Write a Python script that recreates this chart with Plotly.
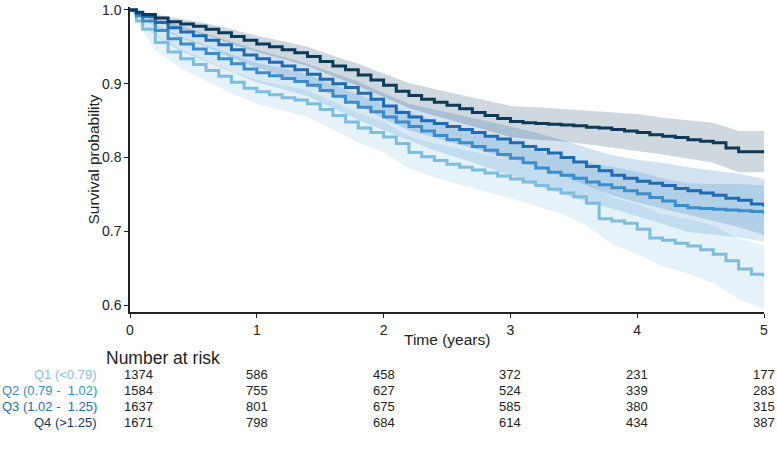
import plotly.graph_objects as go

# ---- data ----
time_grid = [0, 0.05, 0.1, 0.2, 0.3, 0.4, 0.5, 0.6, 0.7, 0.8, 0.9, 1.0, 1.1, 1.2, 1.3, 1.4, 1.5,
             1.6, 1.7, 1.8, 1.9, 2.0, 2.1, 2.2, 2.3, 2.4, 2.5, 2.6, 2.7, 2.8, 2.9, 3.0, 3.1, 3.2,
             3.3, 3.4, 3.5, 3.6, 3.7, 3.8, 3.9, 4.0, 4.1, 4.2, 4.3, 4.4, 4.5, 4.6, 4.7, 4.8, 4.9, 5.0]

surv_q1 = [1.0, 0.985, 0.974, 0.956, 0.943, 0.934, 0.926, 0.918, 0.910, 0.902, 0.894, 0.889, 0.885,
           0.881, 0.878, 0.873, 0.865, 0.857, 0.848, 0.840, 0.834, 0.828, 0.819, 0.807, 0.801, 0.796,
           0.791, 0.787, 0.783, 0.779, 0.775, 0.771, 0.767, 0.762, 0.757, 0.752, 0.747, 0.738, 0.717,
           0.714, 0.711, 0.703, 0.691, 0.688, 0.684, 0.680, 0.675, 0.669, 0.660, 0.649, 0.642, 0.638]
surv_q2 = [1.0, 0.992, 0.985, 0.972, 0.961, 0.954, 0.947, 0.941, 0.934, 0.927, 0.920, 0.915, 0.911,
           0.907, 0.903, 0.898, 0.891, 0.883, 0.875, 0.868, 0.862, 0.855, 0.848, 0.842, 0.836, 0.830,
           0.824, 0.820, 0.815, 0.810, 0.804, 0.799, 0.793, 0.786, 0.780, 0.776, 0.772, 0.767, 0.763,
           0.759, 0.755, 0.751, 0.746, 0.741, 0.735, 0.732, 0.731, 0.730, 0.729, 0.728, 0.727, 0.724]
surv_q3 = [1.0, 0.995, 0.991, 0.983, 0.976, 0.970, 0.965, 0.959, 0.953, 0.946, 0.939, 0.934, 0.929,
           0.924, 0.919, 0.913, 0.906, 0.900, 0.895, 0.887, 0.879, 0.870, 0.861, 0.855, 0.850, 0.846,
           0.842, 0.838, 0.834, 0.829, 0.825, 0.820, 0.815, 0.811, 0.806, 0.800, 0.794, 0.788, 0.782,
           0.776, 0.772, 0.768, 0.765, 0.762, 0.758, 0.755, 0.752, 0.749, 0.745, 0.742, 0.737, 0.733]
surv_q4 = [1.0, 0.997, 0.994, 0.989, 0.984, 0.981, 0.978, 0.974, 0.969, 0.964, 0.959, 0.954, 0.950,
           0.946, 0.942, 0.937, 0.930, 0.924, 0.919, 0.912, 0.905, 0.898, 0.890, 0.884, 0.879, 0.875,
           0.871, 0.866, 0.861, 0.857, 0.853, 0.849, 0.847, 0.846, 0.845, 0.844, 0.843, 0.841, 0.840,
           0.838, 0.836, 0.834, 0.831, 0.829, 0.827, 0.824, 0.822, 0.820, 0.813, 0.808, 0.808, 0.808]

band_grid = [0, 0.2, 0.4, 0.6, 0.8, 1.0, 1.2, 1.4, 1.6, 1.8, 2.0, 2.2, 2.4, 2.6, 2.8, 3.0, 3.2,
             3.4, 3.6, 3.8, 4.0, 4.2, 4.4, 4.6, 4.8, 5.0]

lower_q1 = [1.0, 0.945, 0.921, 0.904, 0.887, 0.873, 0.864, 0.855, 0.838, 0.820, 0.807, 0.785, 0.773,
            0.763, 0.754, 0.745, 0.735, 0.724, 0.708, 0.682, 0.669, 0.653, 0.643, 0.630, 0.608, 0.595]
upper_q1 = [1.0, 0.967, 0.947, 0.932, 0.917, 0.905, 0.898, 0.891, 0.876, 0.860, 0.849, 0.829, 0.819,
            0.811, 0.804, 0.797, 0.789, 0.780, 0.768, 0.746, 0.737, 0.723, 0.717, 0.708, 0.690, 0.681]
lower_q2 = [1.0, 0.964, 0.944, 0.930, 0.915, 0.902, 0.893, 0.883, 0.867, 0.851, 0.837, 0.823, 0.810,
            0.799, 0.788, 0.776, 0.762, 0.751, 0.740, 0.731, 0.721, 0.710, 0.699, 0.696, 0.692, 0.686]
upper_q2 = [1.0, 0.980, 0.964, 0.952, 0.939, 0.928, 0.921, 0.913, 0.899, 0.885, 0.873, 0.861, 0.850,
            0.841, 0.832, 0.822, 0.810, 0.801, 0.794, 0.787, 0.781, 0.772, 0.765, 0.764, 0.764, 0.762]
lower_q3 = [1.0, 0.977, 0.962, 0.950, 0.935, 0.922, 0.911, 0.899, 0.885, 0.871, 0.853, 0.837, 0.827,
            0.818, 0.808, 0.798, 0.788, 0.776, 0.762, 0.749, 0.739, 0.731, 0.723, 0.715, 0.706, 0.695]
upper_q3 = [1.0, 0.989, 0.978, 0.968, 0.957, 0.946, 0.937, 0.927, 0.915, 0.903, 0.887, 0.873, 0.865,
            0.858, 0.850, 0.842, 0.834, 0.824, 0.814, 0.803, 0.797, 0.793, 0.787, 0.783, 0.778, 0.771]
lower_q4 = [1.0, 0.984, 0.974, 0.966, 0.954, 0.943, 0.934, 0.924, 0.910, 0.897, 0.882, 0.867, 0.857,
            0.847, 0.837, 0.828, 0.824, 0.822, 0.818, 0.814, 0.809, 0.804, 0.798, 0.793, 0.780, 0.780]
upper_q4 = [1.0, 0.994, 0.988, 0.982, 0.974, 0.965, 0.958, 0.950, 0.938, 0.927, 0.914, 0.901, 0.893,
            0.885, 0.877, 0.870, 0.868, 0.866, 0.864, 0.862, 0.859, 0.854, 0.850, 0.847, 0.836, 0.836]

group_labels = ["Q1 (<0.79)", "Q2 (0.79 -  1.02)", "Q3 (1.02 -  1.25)", "Q4 (>1.25)"]
risk_times = [0, 1, 2, 3, 4, 5]
risk_q1 = [1374, 586, 458, 372, 231, 177]
risk_q2 = [1584, 755, 627, 524, 339, 283]
risk_q3 = [1637, 801, 675, 585, 380, 315]
risk_q4 = [1671, 798, 684, 614, 434, 387]

x_ticks = [0, 1, 2, 3, 4, 5]
y_ticks = [0.6, 0.7, 0.8, 0.9, 1.0]

# ---- styling ----
line_colors = ["#7dbde0", "#3b8dcb", "#1f6cb3", "#0b3a5a"]
band_colors = ["rgba(125,189,224,0.20)", "rgba(59,141,203,0.20)",
               "rgba(31,108,179,0.20)", "rgba(11,58,90,0.20)"]
label_colors = ["#86c2e3", "#3b8bc8", "#2a6cae", "#0e3a5c"]
FONT = "Liberation Sans, Arial, sans-serif"
TXT = "#222222"

surv = [surv_q1, surv_q2, surv_q3, surv_q4]
lowers = [lower_q1, lower_q2, lower_q3, lower_q4]
uppers = [upper_q1, upper_q2, upper_q3, upper_q4]
risks = [risk_q1, risk_q2, risk_q3, risk_q4]

fig = go.Figure()

for i in range(4):
    fig.add_trace(go.Scatter(x=band_grid, y=uppers[i], mode="lines", line=dict(width=0),
                             hoverinfo="skip", showlegend=False))
    fig.add_trace(go.Scatter(x=band_grid, y=lowers[i], mode="lines", line=dict(width=0),
                             fill="tonexty", fillcolor=band_colors[i], hoverinfo="skip",
                             showlegend=False))

for i in range(4):
    fig.add_trace(go.Scatter(x=time_grid, y=surv[i], mode="lines", name=group_labels[i],
                             line=dict(color=line_colors[i], width=3, shape="hv"),
                             showlegend=False))

annotations = []
annotations.append(dict(text="Survival probability", xref="paper", yref="paper", x=0, y=0.5,
                        xshift=-37, textangle=-90, showarrow=False,
                        font=dict(size=15.5, color=TXT, family=FONT), xanchor="center", yanchor="middle"))
annotations.append(dict(text="Time (years)", xref="paper", yref="paper", x=0.5, y=0, yshift=-27,
                        showarrow=False, font=dict(size=15.5, color=TXT, family=FONT),
                        xanchor="center", yanchor="middle"))
annotations.append(dict(text="Number at risk", xref="paper", yref="paper", x=0, y=0, xshift=-26,
                        yshift=-46, showarrow=False, font=dict(size=17.5, color=TXT, family=FONT),
                        xanchor="left", yanchor="middle"))

row_shifts = [-62, -78, -94, -110]
for i in range(4):
    annotations.append(dict(text=group_labels[i], xref="paper", yref="paper", x=0, y=0,
                            xshift=-31, yshift=row_shifts[i], showarrow=False,
                            font=dict(size=13, color=label_colors[i], family=FONT),
                            xanchor="right", yanchor="middle"))
    for j, t in enumerate(risk_times):
        annotations.append(dict(text=str(risks[i][j]), xref="x", yref="paper", x=t, y=0,
                                xshift=8 if t == 0 else 0, yshift=row_shifts[i], showarrow=False,
                                font=dict(size=13, color=TXT, family=FONT),
                                xanchor="center", yanchor="middle"))

fig.update_layout(
    width=777, height=463,
    margin=dict(l=130, r=13, t=2, b=151),
    paper_bgcolor="white", plot_bgcolor="white",
    font=dict(family=FONT, size=13, color=TXT),
    showlegend=False,
    annotations=annotations,
    xaxis=dict(range=[0, 5], tickvals=x_ticks, ticktext=[str(v) for v in x_ticks],
               showgrid=False, zeroline=False, showline=True, linecolor="#222", linewidth=1.5,
               ticks="outside", ticklen=4, tickcolor="#222", tickwidth=1,
               ticklabeloverflow="allow",
               tickfont=dict(size=14, color=TXT, family=FONT)),
    yaxis=dict(range=[0.5907, 1.004], tickvals=y_ticks, ticktext=[f"{v:.1f}" for v in y_ticks],
               showgrid=False, zeroline=False, showline=True, linecolor="#222", linewidth=1.5,
               ticks="outside", ticklen=4, tickcolor="#222", tickwidth=1,
               ticklabeloverflow="allow",
               tickfont=dict(size=14, color=TXT, family=FONT)),
)

fig.write_html("out.html", config={"displayModeBar": False},
               post_script="document.body.style.margin='0';")
